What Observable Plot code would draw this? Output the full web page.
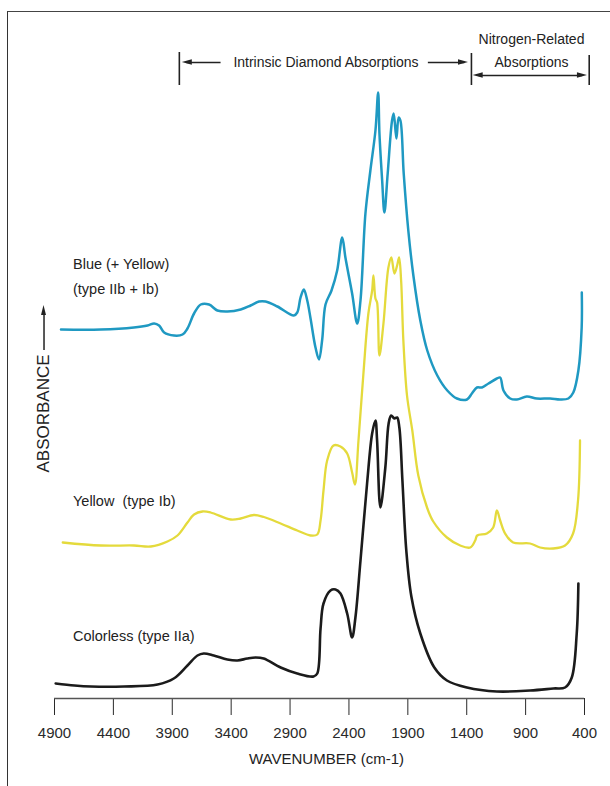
<!DOCTYPE html>
<html>
<head>
<meta charset="utf-8">
<script src="https://cdn.jsdelivr.net/npm/d3@7"></script>
<script src="https://cdn.jsdelivr.net/npm/@observablehq/plot@0.6"></script>
<style>
  html, body { margin: 0; padding: 0; background: #fff; }
  #wrap { position: relative; width: 610px; height: 786px; overflow: hidden; }
  #frame { position: absolute; left: 7px; top: 11px; right: -5px; bottom: -5px;
           border-left: 1.5px solid #333; border-top: 1.5px solid #444; pointer-events: none; }
</style>
</head>
<body>
<div id="wrap"><div id="frame"></div></div>
<script>
// ---- data (wavenumber in cm-1, absorbance in arbitrary stacked units) ----
const xTicks = [4900, 4400, 3900, 3400, 2900, 2400, 1900, 1400, 900, 400];

const seriesNames = ["Blue (+ Yellow)\n(type IIb + Ib)", "Yellow  (type Ib)", "Colorless (type IIa)"];

const blueWn = [4845,4506,4226,4110,4054,4012,3969,3885,3813,3771,3715,3658,3588,3517,3432,3319,3235,3164,3108,3008,2868,2839,2811,2783,2754,2726,2684,2654,2627,2599,2548,2500,2457,2430,2373,2330,2302,2260,2218,2175,2152,2141,2118,2099,2071,2034,2020,1997,1978,1963,1935,1896,1853,1794,1735,1650,1565,1483,1398,1356,1313,1271,1215,1144,1116,1088,1031,974,890,805,692,607,537,495,452,424,423];
const blueAbs = [36.9,36.9,37.1,37.3,37.5,37.3,36.6,36.3,36.4,37.0,38.5,39.4,39.4,38.8,38.7,38.9,39.3,39.7,39.7,39.2,38.3,38.6,40.1,40.9,39.8,38.0,35.1,33.9,35.9,39.4,40.8,42.8,46.1,44.1,40.5,37.5,39.8,48.5,52.8,56.8,60.6,56.5,51.8,48.6,52.5,57.8,58.5,56.0,58.1,57.8,52.5,46.8,42.3,37.8,34.8,32.3,30.8,30.0,29.9,30.5,31.1,31.1,31.5,32.0,32.1,30.8,30.0,29.9,30.2,30.0,30.0,29.9,30.0,30.6,32.8,37.1,40.6];

const yellowWn = [4830,4506,4226,4082,3941,3856,3771,3715,3644,3574,3404,3319,3207,3122,2980,2839,2726,2669,2641,2616,2585,2531,2472,2415,2373,2349,2319,2277,2235,2203,2192,2175,2161,2141,2107,2065,2040,2014,1991,1974,1957,1938,1907,1862,1811,1737,1684,1568,1455,1370,1328,1311,1229,1175,1144,1116,1074,1006,862,777,667,565,497,455,438];
const yellowAbs = [15.6,15.3,15.3,15.2,15.7,16.3,17.6,18.4,18.7,18.6,17.9,18.0,18.35,18.15,17.5,16.8,16.3,16.4,17.8,20.8,23.8,25.3,25.2,24.5,22.6,21.4,25.8,32.5,38.5,40.8,42.3,40.0,39.6,34.3,37.5,43.1,44.1,42.5,43.3,44.1,41.8,35.8,30.3,26.8,22.3,19.1,17.7,16.1,15.3,15.1,15.8,16.3,16.5,17.1,18.8,17.8,16.5,15.6,15.5,15.1,15.0,15.3,16.5,19.8,25.8];

const blackWn = [4890,4730,4590,4310,4025,3887,3771,3686,3633,3548,3432,3347,3263,3192,3124,2980,2839,2701,2669,2641,2616,2557,2514,2472,2415,2373,2345,2302,2246,2203,2175,2161,2133,2091,2063,2042,2014,1991,1972,1946,1913,1870,1794,1675,1568,1398,1144,862,664,565,508,466,452];
const blackAbs = [1.5,1.3,1.2,1.2,1.4,2.0,3.3,4.3,4.5,4.3,3.9,3.8,4.0,4.1,4.0,3.1,2.5,2.2,2.5,7.0,9.5,10.8,10.9,10.5,8.5,6.1,8.1,13.8,21.5,26.5,27.8,25.8,19.1,23.1,27.5,28.3,28.0,28.1,27.1,21.8,14.8,10.2,6.5,3.1,1.8,1.1,0.7,0.8,1.0,1.1,2.1,6.5,11.5];

// spectral regions (wavenumber edges)
const regionNames = ["Intrinsic Diamond Absorptions", "Nitrogen-Related", "Absorptions"];
const regionEdges = [3840, 1360, 360];

// ---- build tables ----
const toRows = (wn, ab, name) => wn.map((w, i) => ({wn: w, a: ab[i], name}));
const blue = toRows(blueWn, blueAbs, "blue");
const yellow = toRows(yellowWn, yellowAbs, "yellow");
const black = toRows(blackWn, blackAbs, "black");

// layout constants (in scale units)
const yTop = 61;
const aArrow1 = 63.6, aArrow2 = 62.3, aBarLow = 61.3;
const headLen = 85, headHalf = 0.27;
function head(id, tip, dir, a) { // dir=+1 points left on screen (toward higher wn), -1 right
  return [{id, x: tip, y1: a, y2: a}, {id, x: tip - dir * headLen, y1: a - headHalf, y2: a + headHalf}];
}
const heads = [
  ...head("h1", regionEdges[0] - 25, +1, aArrow1),
  ...head("h2", regionEdges[1] + 25, -1, aArrow1),
  ...head("h3", regionEdges[1] - 15, +1, aArrow2),
  ...head("h4", regionEdges[2] + 15, -1, aArrow2)
];
const shafts = [
  {x1: 3490, x2: regionEdges[0] - 60, y: aArrow1},
  {x1: 1730, x2: regionEdges[1] + 60, y: aArrow1},
  {x1: regionEdges[1] - 60, x2: regionEdges[2] + 60, y: aArrow2}
];
const bars = [
  {x: regionEdges[0], y1: aBarLow, y2: 64.6},
  {x: regionEdges[1], y1: aBarLow, y2: 64.5},
  {x: regionEdges[2], y1: aBarLow, y2: 64.3}
];
const regionLabels = [
  {x: 2595, y: aArrow1, t: regionNames[0]},
  {x: 850, y: 65.9, t: regionNames[1]},
  {x: 850, y: 63.6, t: regionNames[2]}
];
const seriesLabels = [
  {x: 4743, y: 44.0, t: seriesNames[0]},
  {x: 4743, y: 20.3, t: seriesNames[1]},
  {x: 4743, y: 6.8, t: seriesNames[2]}
];
// y-axis label arrow (vertical)
const yArrowX = 4989;
const yHead = [{y: 39.3, x1: yArrowX, x2: yArrowX}, {y: 38.3, x1: yArrowX - 21, x2: yArrowX + 21}];

const font = "'Liberation Sans', Arial, Helvetica, sans-serif";

const chart = Plot.plot({
  width: 610,
  height: 786,
  marginLeft: 54,
  marginRight: 26,
  marginTop: 88,
  marginBottom: 88,
  style: {fontFamily: font, fontSize: "15px", color: "#2a2a2a", background: "transparent", overflow: "visible"},
  x: {domain: [4900, 400], ticks: xTicks, tickFormat: d => String(d), tickSize: 17, tickPadding: 12, label: null},
  y: {domain: [0, yTop], axis: null},
  marks: [
    Plot.ruleY([0], {stroke: "#555", strokeWidth: 1.5}),
    Plot.line(black, {x: "wn", y: "a", stroke: "#1b1b1b", strokeWidth: 2.6, curve: "catmull-rom"}),
    Plot.line(yellow, {x: "wn", y: "a", stroke: "#e4da3c", strokeWidth: 2.3, curve: "catmull-rom"}),
    Plot.line(blue, {x: "wn", y: "a", stroke: "#1f99c2", strokeWidth: 2.5, curve: "catmull-rom"}),
    // region annotations
    Plot.ruleX(bars, {x: "x", y1: "y1", y2: "y2", stroke: "#222", strokeWidth: 1.6}),
    Plot.link(shafts, {x1: "x1", x2: "x2", y1: "y", y2: "y", stroke: "#222", strokeWidth: 1.4}),
    Plot.area(heads, {x1: "x", y1: "y1", y2: "y2", z: "id", fill: "#222"}),
    Plot.text(regionLabels, {x: "x", y: "y", text: "t", fontSize: 14, fill: "#222"}),
    // series labels
    Plot.text(seriesLabels, {x: "x", y: "y", text: "t", textAnchor: "start", lineAnchor: "top", fontSize: 14.5, lineHeight: 1.75, fill: "#222", dy: -8}),
    // y label
    Plot.text(["ABSORBANCE"], {x: yArrowX, y: 28.5, text: d => d, rotate: -90, fontSize: 17, fill: "#222"}),
    Plot.ruleX([yArrowX], {y1: 34.8, y2: 38.6, stroke: "#222", strokeWidth: 1.5}),
    Plot.area(yHead, {y1: "y", x1: "x1", x2: "x2", fill: "#222"}),
    // x label
    Plot.text(["WAVENUMBER (cm-1)"], {frameAnchor: "bottom", dx: 7, dy: 65, text: d => d, fontSize: 15, fill: "#222"})
  ]
});
document.getElementById("wrap").prepend(chart);
chart.style.position = "absolute";
chart.style.left = "0px";
chart.style.top = "0px";
</script>
</body>
</html>
